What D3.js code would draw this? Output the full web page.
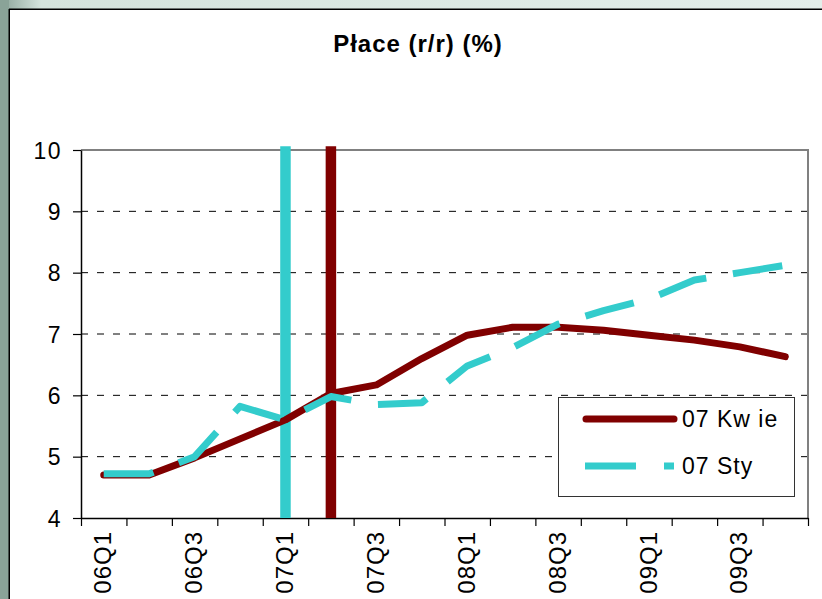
<!DOCTYPE html>
<html>
<head>
<meta charset="utf-8">
<script src="https://cdn.jsdelivr.net/npm/d3@7"></script>
<style>
  html, body { margin: 0; padding: 0; background: #fff; }
  svg { display: block; font-family: "Liberation Sans", Arial, sans-serif; }
</style>
</head>
<body>
<svg id="chart" width="822" height="599"></svg>
<script>
// Quarterly wage growth forecasts (y/y, %)
const quarters = ["06Q1","06Q2","06Q3","06Q4","07Q1","07Q2","07Q3","07Q4",
                  "08Q1","08Q2","08Q3","08Q4","09Q1","09Q2","09Q3","09Q4"];
const kwie = [4.70, 4.70, 4.98, 5.29, 5.60, 6.03, 6.17, 6.60,
              6.98, 7.11, 7.11, 7.06, 6.98, 6.90, 6.79, 6.63];
const sty  = [4.72, 4.72, 5.00, 5.82, 5.60, 5.98, 5.85, 5.88,
              6.48, 6.78, 7.16, 7.38, 7.57, 7.88, 8.00, 8.12];
const seriesNames = ["07 Kw ie", "07 Sty"];
const seriesColors = ["#800000", "#33CCCC"];
// forecast release quarters marked with vertical bars
const releaseQuarters = ["07Q1", "07Q2"];
const releaseColors = ["#33CCCC", "#800000"];
const yTicks = [4, 5, 6, 7, 8, 9, 10];
const labelQuarters = ["06Q1","06Q3","07Q1","07Q3","08Q1","08Q3","09Q1","09Q3"];
const title = "Płace (r/r) (%)";

const svg = d3.select("#chart");
const W = 822, H = 599;
const plot = { left: 81, right: 808, top: 150, bottom: 518 };

// slide frame
const defs = svg.append("defs");
const g1 = defs.append("linearGradient").attr("id", "topStrip")
  .attr("x1", 0).attr("x2", 1).attr("y1", 0).attr("y2", 0);
g1.append("stop").attr("offset", "0").attr("stop-color", "#8aa398");
g1.append("stop").attr("offset", "0.05").attr("stop-color", "#d4e3dc");
g1.append("stop").attr("offset", "1").attr("stop-color", "#e3eeea");

svg.append("rect").attr("x", 0).attr("y", 0).attr("width", W).attr("height", H).attr("fill", "#fff");
svg.append("rect").attr("x", 0).attr("y", 0).attr("width", W).attr("height", 9).attr("fill", "url(#topStrip)");
svg.append("rect").attr("x", 0).attr("y", 0).attr("width", 9).attr("height", H).attr("fill", "#8aa398");
svg.append("line").attr("x1", 9).attr("x2", W).attr("y1", 9.25).attr("y2", 9.25)
  .attr("stroke", "#000").attr("stroke-width", 1.5);
svg.append("line").attr("x1", 9.25).attr("x2", 9.25).attr("y1", 9).attr("y2", H)
  .attr("stroke", "#000").attr("stroke-width", 1.5);

// title
svg.append("text")
  .attr("x", 418).attr("y", 52)
  .attr("text-anchor", "middle")
  .attr("font-size", 24).attr("font-weight", "bold")
  .attr("letter-spacing", 1)
  .text(title);

// scales
const x = d3.scaleBand().domain(quarters).range([plot.left, plot.right]);
const xEdge = d3.scaleLinear().domain([0, quarters.length]).range([plot.left, plot.right]);
const y = d3.scaleLinear().domain([4, 10]).range([plot.bottom, plot.top]);
const cx = q => x(q) + x.bandwidth() / 2;

// dashed gridlines
svg.append("g").selectAll("line")
  .data(yTicks.filter(v => v > 4 && v < 10))
  .join("line")
  .attr("x1", plot.left).attr("x2", plot.right)
  .attr("y1", d => y(d)).attr("y2", d => y(d))
  .attr("stroke", "#000").attr("stroke-width", 1)
  .attr("stroke-dasharray", "7,9");

// plot border (top and right)
svg.append("path")
  .attr("d", `M${plot.left},${plot.top}H${plot.right}V${plot.bottom}`)
  .attr("fill", "none").attr("stroke", "#808080").attr("stroke-width", 2);

// y axis
const yAxis = svg.append("g")
  .attr("transform", `translate(${plot.left},0)`)
  .call(d3.axisLeft(y).tickValues(yTicks).tickFormat(d3.format("d"))
    .tickSize(8).tickPadding(11).tickSizeOuter(0));
yAxis.select(".domain").attr("stroke", "#000").attr("stroke-width", 1.5);
yAxis.selectAll(".tick line").attr("stroke", "#000").attr("stroke-width", 1.2);
yAxis.selectAll(".tick text")
  .attr("font-size", 23).attr("font-family", "Liberation Sans, Arial, sans-serif")
  .attr("fill", "#000").attr("letter-spacing", 1.5).attr("dy", "0.35em");

// x axis: ticks on quarter boundaries
const xAxis = svg.append("g")
  .attr("transform", `translate(0,${plot.bottom})`)
  .call(d3.axisBottom(xEdge).tickValues(d3.range(quarters.length + 1))
    .tickSize(8).tickFormat("").tickSizeOuter(0));
xAxis.select(".domain").attr("stroke", "#000").attr("stroke-width", 1.5);
xAxis.selectAll(".tick line").attr("stroke", "#000").attr("stroke-width", 1.2);

// rotated quarter labels
svg.append("g").selectAll("text")
  .data(labelQuarters)
  .join("text")
  .attr("transform", d => `translate(${cx(d) - 1},531) rotate(-90)`)
  .attr("text-anchor", "end")
  .attr("dy", "0.36em")
  .attr("font-size", 24)
  .attr("letter-spacing", 1)
  .attr("fill", "#000")
  .text(d => d);

// release bars
svg.append("g").selectAll("line")
  .data(releaseQuarters)
  .join("line")
  .attr("x1", d => cx(d)).attr("x2", d => cx(d))
  .attr("y1", y(10.06)).attr("y2", y(4))
  .attr("stroke", (d, i) => releaseColors[i])
  .attr("stroke-width", 10.5);

// series lines
const line = d3.line().x((d, i) => cx(quarters[i])).y(d => y(d));

svg.append("path")
  .datum(kwie)
  .attr("d", line)
  .attr("fill", "none")
  .attr("stroke", seriesColors[0])
  .attr("stroke-width", 7)
  .attr("stroke-linecap", "round")
  .attr("stroke-linejoin", "round");

svg.append("path")
  .datum(sty)
  .attr("d", line)
  .attr("fill", "none")
  .attr("stroke", seriesColors[1])
  .attr("stroke-width", 7)
  .attr("stroke-linecap", "butt")
  .attr("stroke-linejoin", "round")
  .attr("stroke-dasharray", "50,27");

// legend
const lg = svg.append("g");
lg.append("rect")
  .attr("x", 558.5).attr("y", 397.5).attr("width", 236).attr("height", 99)
  .attr("fill", "#fff").attr("stroke", "#333").attr("stroke-width", 1);
const legendRows = [419, 466];
lg.append("line")
  .attr("x1", 586).attr("x2", 674).attr("y1", legendRows[0]).attr("y2", legendRows[0])
  .attr("stroke", seriesColors[0]).attr("stroke-width", 7).attr("stroke-linecap", "round");
lg.append("line")
  .attr("x1", 585).attr("x2", 674).attr("y1", legendRows[1]).attr("y2", legendRows[1])
  .attr("stroke", seriesColors[1]).attr("stroke-width", 7)
  .attr("stroke-dasharray", "51,28");
lg.selectAll("text")
  .data(seriesNames)
  .join("text")
  .attr("x", 682)
  .attr("y", (d, i) => legendRows[i])
  .attr("dy", "0.36em")
  .attr("font-size", 23)
  .attr("letter-spacing", 1)
  .attr("fill", "#000")
  .text(d => d);
</script>
</body>
</html>
